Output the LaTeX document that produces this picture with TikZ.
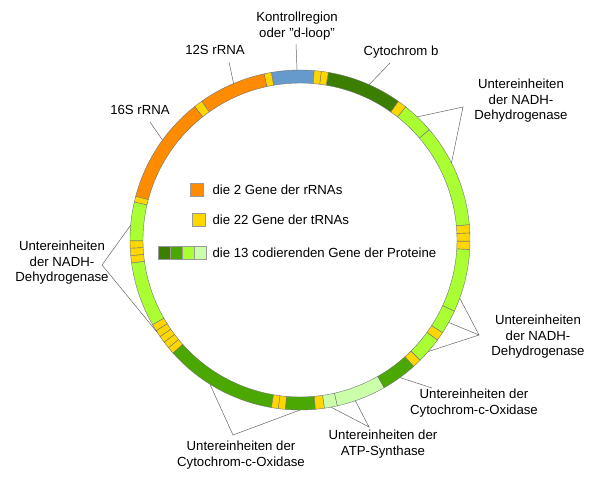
\documentclass[tikz,border=0pt]{standalone}
\usepackage{fontspec}
\setmainfont{Liberation Sans}
\usepackage{tikz}

\definecolor{rrna}{HTML}{FF8C00}
\definecolor{trna}{HTML}{FFD700}
\definecolor{dloop}{HTML}{6699CC}
\definecolor{cytb}{HTML}{3C7F00}
\definecolor{cox}{HTML}{4AA800}
\definecolor{nadh}{HTML}{AAFF33}
\definecolor{atp}{HTML}{CCFFAA}

\newcommand{\ro}{170}
\newcommand{\ri}{157}
\newcommand{\gene}[3]{\filldraw[#3, draw=black!55, line width=0.4pt] (#1:\ro) arc[start angle=#1, end angle=#2, radius=\ro] -- (#2:\ri) arc[start angle=#2, end angle=#1, radius=\ri] -- cycle;}

\begin{document}
\begin{tikzpicture}[x=1pt, y=-1pt, font=\fontsize{13.2}{15.5}\selectfont]
\tikzset{lbl/.style={align=center, inner sep=0pt},
  lead/.style={draw=black!60, line width=0.5pt},
  key/.style={draw=black!40, line width=0.3pt, minimum size=13pt, inner sep=0pt}}
\useasboundingbox (0,0) rectangle (600,479);
% ring
\begin{scope}[shift={(300,240)}, yscale=-1]
\gene{85.2}{99.7}{dloop}
\gene{99.7}{102.2}{trna}
\gene{102.2}{125.3}{rrna}
\gene{125.3}{128.3}{trna}
\gene{128.3}{165.1}{rrna}
\gene{165.1}{167.1}{trna}
\gene{167.1}{180.3}{nadh}
\foreach \a in {180.3,182.8,185.3} {\gene{\a}{\a+2.5}{trna}}
\gene{187.8}{209.9}{nadh}
\foreach \a in {209.9,212.26,214.62,216.98,219.34} {\gene{\a}{\a+2.36}{trna}}
\gene{221.7}{260.3}{cox}
\foreach \a in {260.3,262.7} {\gene{\a}{\a+2.4}{trna}}
\gene{265.1}{275.2}{cox}
\gene{275.2}{278.3}{trna}
\gene{278.3}{282.7}{atp}
\gene{282.7}{299.7}{atp}
\gene{299.7}{312}{cox}
\gene{312}{315}{trna}
\gene{315}{324}{nadh}
\gene{324}{327}{trna}
\gene{327}{335.3}{nadh}
\gene{335.3}{356.8}{nadh}
\foreach \a in {356.8,359.6,362.4} {\gene{\a}{\a+2.8}{trna}}
\gene{5.2}{40.5}{nadh}
\gene{40.5}{51.6}{nadh}
\gene{51.6}{54.7}{trna}
\gene{54.7}{80.4}{cytb}
\foreach \a in {80.4,82.8} {\gene{\a}{\a+2.4}{trna}}
% ring points for leaders
\coordinate (rDloop) at (91:\ro);
\coordinate (rS12) at (113:\ro);
\coordinate (rCytb) at (66:\ro);
\coordinate (rS16) at (144:\ro);
\coordinate (rNdA) at (46.4:\ro);
\coordinate (rNdB) at (27:\ro);
\coordinate (rNdC) at (175:\ro);
\coordinate (rNdD) at (213:\ro);
\coordinate (rNdE) at (340:\ro);
\coordinate (rNdF) at (331:\ro);
\coordinate (rNdG) at (319:\ro);
\coordinate (rCoxA) at (306:\ro);
\coordinate (rCoxB) at (238:\ro);
\coordinate (rCoxC) at (270:\ro);
\coordinate (rAtpA) at (280.5:\ro);
\coordinate (rAtpB) at (289:\ro);
\end{scope}

% labels
\node[lbl] (dloop) at (297,26) {Kontrollregion\\oder \symbol{34}d-loop\symbol{34}};
\node[lbl] (s12) at (215,50) {12S rRNA};
\node[lbl] (cytb) at (401,52) {Cytochrom b};
\node[lbl] (s16) at (140,110) {16S rRNA};
\node[lbl] (ndR) at (521,101) {Untereinheiten\\der NADH-\\Dehydrogenase};
\node[lbl] (ndL) at (62,263) {Untereinheiten\\der NADH-\\Dehydrogenase};
\node[lbl] (ndRb) at (538,337) {Untereinheiten\\der NADH-\\Dehydrogenase};
\node[lbl] (coxR) at (474,403) {Untereinheiten der\\Cytochrom-c-Oxidase};
\node[lbl] (coxB) at (241,455) {Untereinheiten der\\Cytochrom-c-Oxidase};
\node[lbl] (atp) at (383,444) {Untereinheiten der\\ATP-Synthase};

% leader apexes
\coordinate (aNdR) at (463,107);
\coordinate (aNdL) at (102,265);
\coordinate (aNdRb) at (479,335);
\coordinate (aCoxB) at (233,435);
\coordinate (aAtp) at (369,427);

\draw[lead] (296,44) -- (rDloop);
\draw[lead] (229,62) -- (rS12);
\draw[lead] (390,63) -- (rCytb);
\draw[lead] (150,122) -- (rS16);
\draw[lead] (rNdA) -- (aNdR) -- (rNdB);
\draw[lead] (rNdC) -- (aNdL) -- (rNdD);
\draw[lead] (rNdE) -- (aNdRb) -- (rNdG);
\draw[lead] (aNdRb) -- (rNdF);
\draw[lead] (rCoxA) -- (432,388);
\draw[lead] (rCoxB) -- (aCoxB) -- (rCoxC);
\draw[lead] (rAtpA) -- (aAtp) -- (rAtpB);

% legend
\node[key, fill=rrna] (kR) at (197,190) {};
\node[anchor=west] at (209,190) {die 2 Gene der rRNAs};
\node[key, fill=trna] (kT) at (199,220) {};
\node[anchor=west] at (209,220) {die 22 Gene der tRNAs};
\foreach \c [count=\i] in {cytb,cox,nadh,atp}
  \node[key, fill=\c, minimum width=12pt] (kP\i) at (152+12*\i,253) {};
\node[anchor=west] at (209,253) {die 13 codierenden Gene der Proteine};
\end{tikzpicture}
\end{document}
